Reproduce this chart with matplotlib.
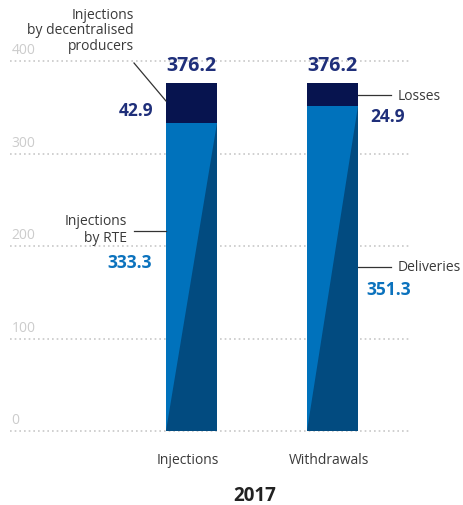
import matplotlib
matplotlib.use("Agg")
import matplotlib.pyplot as plt
import numpy as np

plt.rcParams['font.family'] = ['Open Sans', 'DejaVu Sans']

categories = ["Injections", "Withdrawals"]
lower_values = [333.3, 351.3]
upper_values = [42.9, 24.9]
totals = [376.2, 376.2]
lower_names = ["Injections\nby RTE", "Deliveries"]
upper_names = ["Injections\nby decentralised\nproducers", "Losses"]
yticks = [0, 100, 200, 300, 400]
year = "2017"

W, H = 464, 506
fig = plt.figure(figsize=(W / 100, H / 100), dpi=100)

# axes in pixel geometry: x 10..410, y 432 (0) .. 62 (400)
left, right, bottom, top = 10, 410, 432, 62
ax = fig.add_axes([left / W, 1 - bottom / H, (right - left) / W, (bottom - top) / H])
px_per_unit = 141.0
bw = 51 / px_per_unit
ax.set_xlim((left - 191.5) / px_per_unit, (right - 191.5) / px_per_unit)
ax.set_ylim(0, 400)
ax.axis('off')

grid_c = '#c8c8c8'
for t in yticks:
    ax.plot([ax.get_xlim()[0], ax.get_xlim()[1]], [t, t], color=grid_c,
            linestyle=(0, (1, 1.8)), lw=1.2, zorder=1, clip_on=False)
    ax.text(ax.get_xlim()[0] + 0.01, t + 8.5, str(t), color='#cccccc', fontsize=10,
            ha='left', va='baseline')

navy = '#07144f'
blue = '#0072bc'
dark = '#024b80'
num_navy = '#1f2f7a'
num_blue = '#0b72bd'
txt = '#3a3a3a'

x = np.arange(len(categories))
ax.bar(x, lower_values, width=bw, color=blue, zorder=2)
ax.bar(x, upper_values, width=bw, bottom=lower_values, color=navy, zorder=2)
for xi, lv in zip(x, lower_values):
    ax.fill([xi - bw / 2, xi + bw / 2, xi + bw / 2], [0, 0, lv], color=dark, zorder=3, lw=0)

# totals
for xi, tv in zip(x, totals):
    ax.text(xi, tv + 20, f"{tv:.1f}", ha='center', va='center', color=num_navy,
            fontsize=14, fontweight='bold')

unit_px = (bottom - top) / 400.0
def ypx(p):
    return (bottom - p) / unit_px
def xpx(p):
    return (p - 191.5) / px_per_unit

# Injections labels (left side)
ax.text(xpx(153), ypx(111), f"{upper_values[0]:.1f}", ha='right', va='center', color=num_navy,
        fontsize=12.5, fontweight='bold')
for i, line in enumerate(upper_names[0].split("\n")):
    ax.text(xpx(134), ypx(15 + 15.5 * i), line, ha='right', va='center', color=txt, fontsize=10)
ax.plot([xpx(134), xpx(166)], [ypx(64), ypx(102)], color='#333333', lw=0.9, clip_on=False)

ax.text(xpx(127), ypx(230), lower_names[0], ha='right', va='center', color=txt,
        fontsize=10, linespacing=1.1)
ax.plot([xpx(134), xpx(166)], [ypx(232), ypx(232)], color='#333333', lw=0.9, clip_on=False)
ax.text(xpx(152), ypx(263), f"{lower_values[0]:.1f}", ha='right', va='center', color=num_blue,
        fontsize=12.5, fontweight='bold')

# Withdrawals labels (right side)
ax.plot([xpx(358), xpx(391)], [ypx(95.5), ypx(95.5)], color='#333333', lw=0.9, clip_on=False)
ax.text(xpx(398), ypx(96), upper_names[1], ha='left', va='center', color=txt, fontsize=10)
ax.text(xpx(370), ypx(117), f"{upper_values[1]:.1f}", ha='left', va='center', color=num_navy,
        fontsize=12.5, fontweight='bold')

ax.plot([xpx(358), xpx(391)], [ypx(268), ypx(268)], color='#333333', lw=0.9, clip_on=False)
ax.text(xpx(398), ypx(268), lower_names[1], ha='left', va='center', color=txt, fontsize=10)
ax.text(xpx(366), ypx(290), f"{lower_values[1]:.1f}", ha='left', va='center', color=num_blue,
        fontsize=12.5, fontweight='bold')

# category labels
for xi, c in zip(x, categories):
    ax.text(xi - 0.025, ypx(461), c, ha='center', va='center', color=txt, fontsize=10)

ax.text(xpx(255), ypx(496), year, ha='center', va='center', color='#222222',
        fontsize=13.5, fontweight='bold')

fig.savefig("out.png", dpi=100)
